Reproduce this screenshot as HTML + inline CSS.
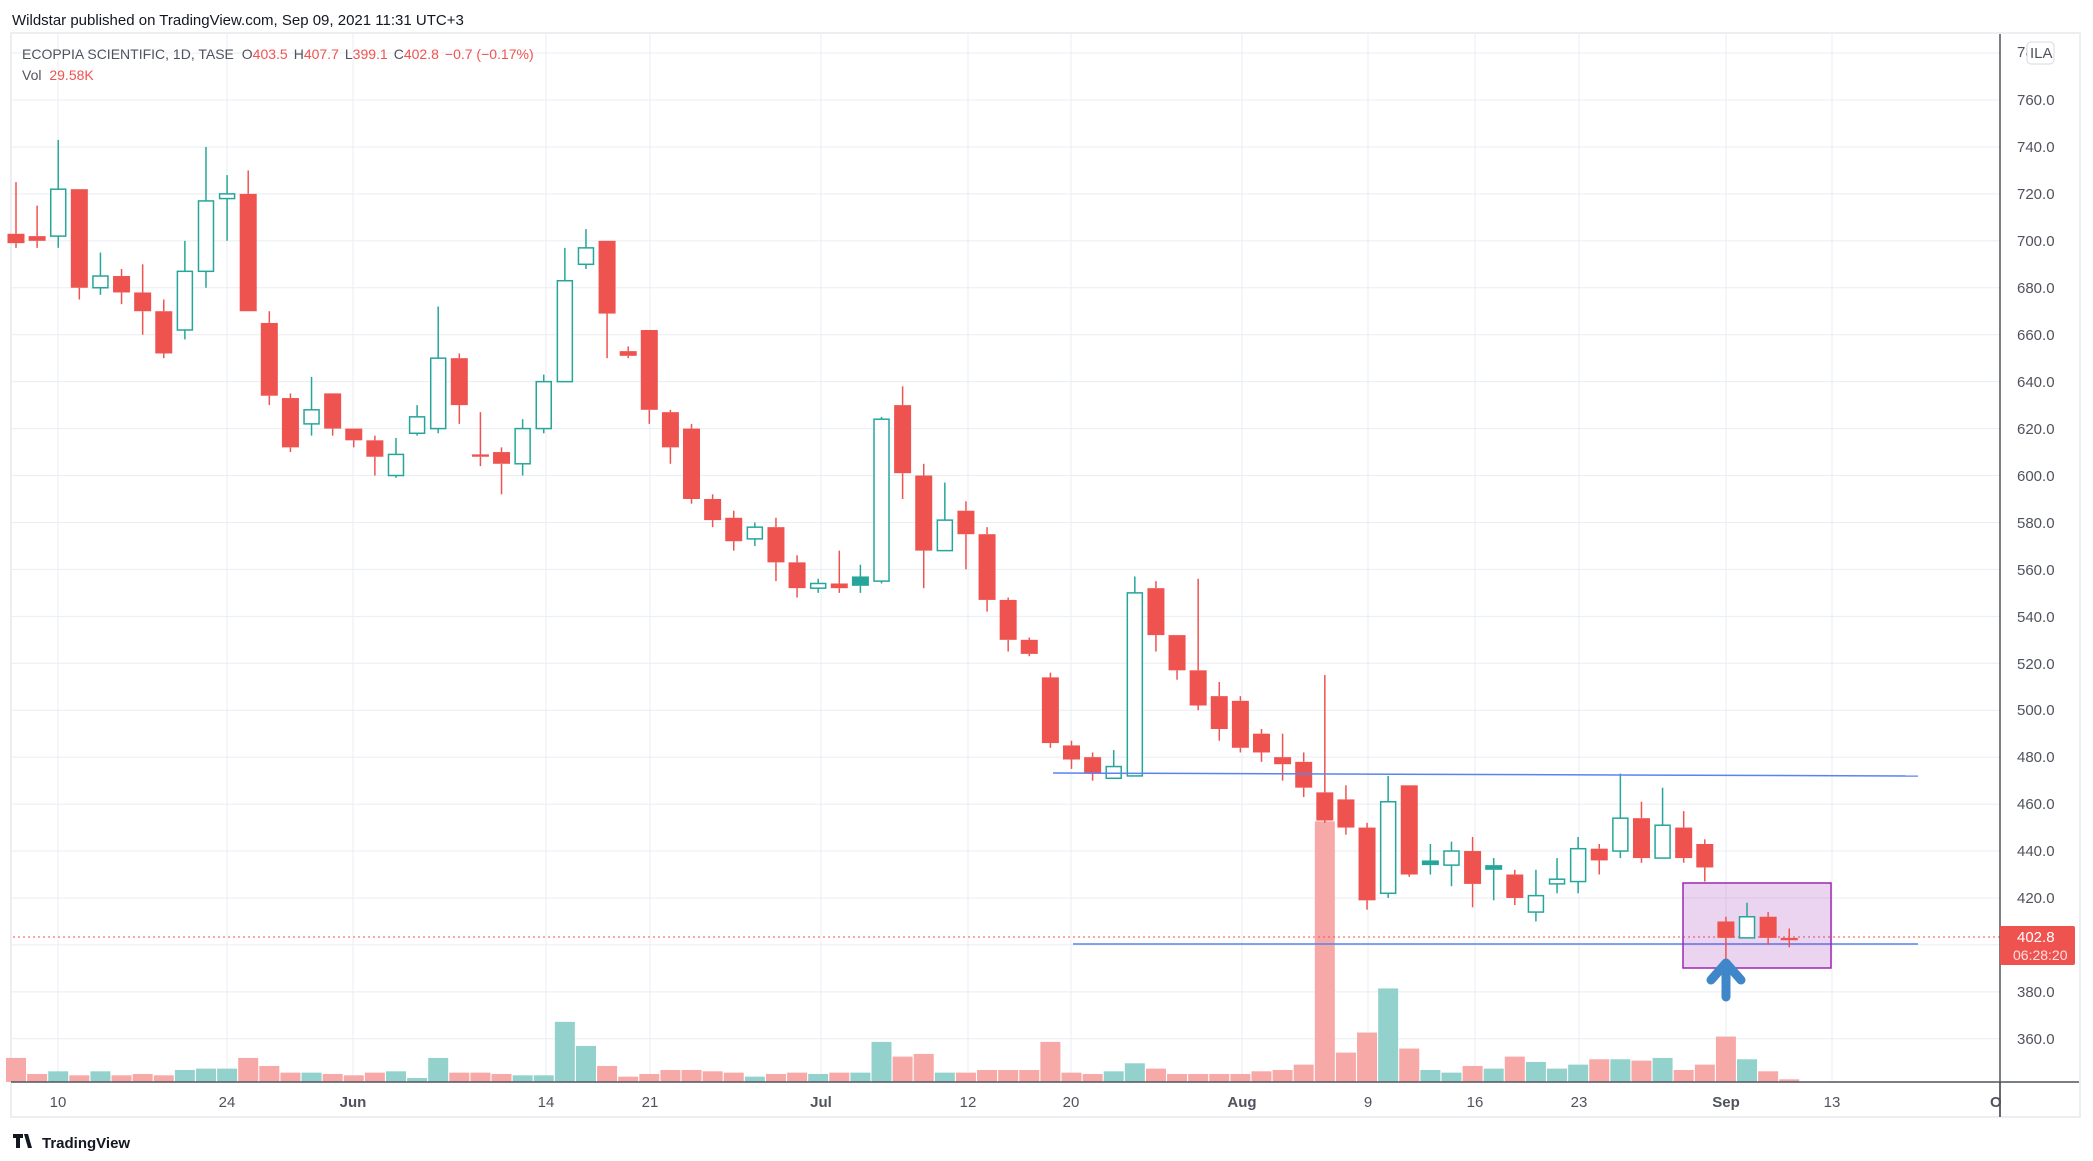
<!DOCTYPE html>
<html><head><meta charset="utf-8">
<style>
html,body{margin:0;padding:0;background:#fff;}
body{width:2093px;height:1161px;position:relative;overflow:hidden;font-family:"Liberation Sans",sans-serif;}
svg{position:absolute;left:0;top:0;}
</style></head><body>
<svg id="c" width="2093" height="1161" xmlns="http://www.w3.org/2000/svg">
<rect x="11" y="33" width="2069" height="1084" fill="#fff" stroke="#eceef2" stroke-width="2"/>
<g id="grid" stroke="#e8eef3" stroke-width="1"></g>
<g id="vol"></g>
<g id="cd"></g>
<line x1="13" y1="937" x2="2000" y2="937" stroke="#ef5350" stroke-width="1" stroke-dasharray="2,3"/>
<line x1="1053" y1="773" x2="1918" y2="776" stroke="#5b83f0" stroke-width="1.5"/>
<line x1="1073" y1="944" x2="1918" y2="944" stroke="#5b83f0" stroke-width="1.5"/>
<rect x="1683" y="883" width="148" height="85" fill="rgba(156,39,176,0.2)" stroke="#9c27b0" stroke-width="1.5"/>
<g id="cd2"></g>
<path d="M1726 997 L1726 968 M1711 980 L1726 963 L1741 980" stroke="#3f87c8" stroke-width="9" stroke-linecap="round" stroke-linejoin="round" fill="none"/>
<line x1="2000" y1="34" x2="2000" y2="1117" stroke="#50535e" stroke-width="1.5"/>
<line x1="11" y1="1082" x2="2079" y2="1082" stroke="#50535e" stroke-width="1.5"/>
<g font-size="15" fill="#50535e">
<text x="2017" y="57">78</text>
<text x="2017" y="105">760.0</text><text x="2017" y="152">740.0</text><text x="2017" y="199">720.0</text>
<text x="2017" y="246">700.0</text><text x="2017" y="293">680.0</text><text x="2017" y="340">660.0</text>
<text x="2017" y="387">640.0</text><text x="2017" y="434">620.0</text><text x="2017" y="481">600.0</text>
<text x="2017" y="528">580.0</text><text x="2017" y="575">560.0</text><text x="2017" y="622">540.0</text>
<text x="2017" y="669">520.0</text><text x="2017" y="715">500.0</text><text x="2017" y="762">480.0</text>
<text x="2017" y="809">460.0</text><text x="2017" y="856">440.0</text><text x="2017" y="903">420.0</text>
<text x="2017" y="997">380.0</text><text x="2017" y="1044">360.0</text>
</g>
<rect x="2027" y="42" width="27" height="22" rx="4" fill="#fff" stroke="#d6d8de"/>
<text x="2030" y="58" font-size="15" fill="#50535e">ILA</text>
<rect x="2000" y="926" width="75" height="39" rx="2" fill="#ef5350"/>
<text x="2017" y="942" font-size="15" fill="#fff">402.8</text>
<text x="2013" y="960" font-size="14" fill="#fde0df">06:28:20</text>
<g font-size="15" fill="#50535e" text-anchor="middle">
<text x="58" y="1107">10</text><text x="227" y="1107">24</text><text x="353" y="1107" font-weight="bold">Jun</text>
<text x="546" y="1107">14</text><text x="650" y="1107">21</text><text x="821" y="1107" font-weight="bold">Jul</text>
<text x="968" y="1107">12</text><text x="1071" y="1107">20</text><text x="1242" y="1107" font-weight="bold">Aug</text>
<text x="1368" y="1107">9</text><text x="1475" y="1107">16</text><text x="1579" y="1107">23</text>
<text x="1726" y="1107" font-weight="bold">Sep</text><text x="1832" y="1107">13</text>
</g>
<text x="1990" y="1107" font-size="15" fill="#50535e" font-weight="bold">O</text>
<rect x="2001" y="1084" width="78" height="32" fill="#fff"/>
<line x1="2000" y1="1082" x2="2000" y2="1117" stroke="#50535e" stroke-width="1.5"/>
<text x="12" y="25" font-size="15" fill="#131722">Wildstar published on TradingView.com, Sep 09, 2021 11:31 UTC+3</text>
<text x="22" y="59" font-size="14" fill="#50535e">ECOPPIA SCIENTIFIC, 1D, TASE <tspan dx="4">O</tspan><tspan fill="#ef5350">403.5</tspan><tspan dx="6">H</tspan><tspan fill="#ef5350">407.7</tspan><tspan dx="6">L</tspan><tspan fill="#ef5350">399.1</tspan><tspan dx="6">C</tspan><tspan fill="#ef5350">402.8</tspan><tspan dx="6" fill="#ef5350">−0.7 (−0.17%)</tspan></text>
<text x="22" y="80" font-size="14" fill="#50535e">Vol <tspan dx="4" fill="#ef5350">29.58K</tspan></text>
<path d="M13 1134 h10 v4 h-3 v10 h-4 v-10 h-3z M24 1134 h4 l4 14 h-4z" fill="#131722"/>
<text x="42" y="1148" font-size="15" fill="#131722" font-weight="bold">TradingView</text>
</svg>
<script>
var D=[[703,725,697,699],[702,715,697,700],[702,743,697,722],[722,722,675,680],[680,695,677,685],[685,688,673,678],[678,690,660,670],[670,675,650,652],[662,700,658,687],[687,740,680,717],[718,728,700,720],[720,730,670,670],[665,670,630,634],[633,635,610,612],[622,642,617,628],[635,635,617,620],[620,620,612,615],[615,617,600,608],[600,616,599,609],[618,630,617,625],[620,672,618,650],[650,652,622,630],[609,627,604,608],[610,612,592,605],[605,624,600,620],[620,643,618,640],[640,697,640,683],[690,705,688,697],[700,700,650,669],[653,655,650,651],[662,662,622,628],[627,628,605,612],[620,622,588,590],[590,592,578,581],[582,585,568,572],[573,580,570,578],[578,582,555,563],[563,566,548,552],[552,556,550,554],[554,568,550,552],[553,562,550,557,1],[555,625,554,624],[630,638,590,601],[600,605,552,568],[568,597,568,581],[585,589,560,575],[575,578,542,547],[547,548,525,530],[530,531,523,524],[514,516,484,486],[485,487,475,479],[480,482,470,473],[471,483,471,476],[472,557,472,550],[552,555,525,532],[532,532,513,517],[517,556,500,502],[506,512,487,492],[504,506,482,484],[490,492,478,482],[480,490,470,477],[478,482,463,467],[465,515,452,453],[462,468,447,450],[450,452,415,419],[422,472,420,461],[468,468,429,430],[434,443,430,436,1],[434,444,425,440],[440,446,416,426],[432,437,419,434,1],[430,432,417,420],[414,432,410,421],[426,437,422,428],[427,446,422,441],[441,443,430,436],[440,473,437,454],[454,461,435,437],[437,467,437,451],[450,457,435,437],[443,445,427,433],[410,412,378,403],[403,418,403,412],[412,414,400,403],[403,407,399,402]];
var V=[18,6,8,5,8,5,6,5,9,10,10,18,12,7,7,6,5,7,8,3,18,7,7,6,5,5,45,27,12,4,6,9,9,8,7,4,6,7,6,7,7,30,19,21,7,7,9,9,9,30,7,6,8,14,10,6,6,6,6,8,9,13,195,22,37,70,25,9,7,12,10,19,15,10,13,17,17,16,18,9,13,34,17,8,2];
var NS="http://www.w3.org/2000/svg";
function el(p,t,a){var e=document.createElementNS(NS,t);for(var k in a)e.setAttribute(k,a[k]);p.appendChild(e);return e;}
function Y(p){return 100+(760-p)*2.347;}
var g=document.getElementById('grid');
for(var p=360;p<=780;p+=20){var y=Y(p);if(y>34&&y<1082)el(g,'line',{x1:12,x2:2000,y1:y,y2:y});}
[58,227,353,546,650,821,968,1071,1242,1368,1475,1579,1726,1832].forEach(function(x){el(g,'line',{x1:x,x2:x,y1:34,y2:1082});});
var cd=document.getElementById('cd'),cd2=document.getElementById('cd2'),vg=document.getElementById('vol');
D.forEach(function(d,i){
 var x=16+i*21.11,o=d[0],h=d[1],l=d[2],c=d[3],up=c>o;
 var col=up?'#26a69a':'#ef5350';
 var h2=V[i]*1.337;
 el(vg,'rect',{x:x-10,y:1082-h2,width:20,height:h2,fill:up?'#93d2cc':'#f7a9a7'});
 var tg=i>=81?cd2:cd;
 el(tg,'line',{x1:x,x2:x,y1:Y(h),y2:Y(Math.max(o,c)),stroke:col,'stroke-width':1.5});
 el(tg,'line',{x1:x,x2:x,y1:Y(Math.min(o,c)),y2:Y(l),stroke:col,'stroke-width':1.5});
 var top=Y(Math.max(o,c)),bh=Math.max(2,Y(Math.min(o,c))-top);
 if(up&&!d[4]) el(tg,'rect',{x:x-7.5,y:top,width:15,height:bh,fill:'#fff',stroke:col,'stroke-width':1.5});
 else el(tg,'rect',{x:x-8.5,y:top,width:17,height:bh,fill:col});
});
</script>
</body></html>
